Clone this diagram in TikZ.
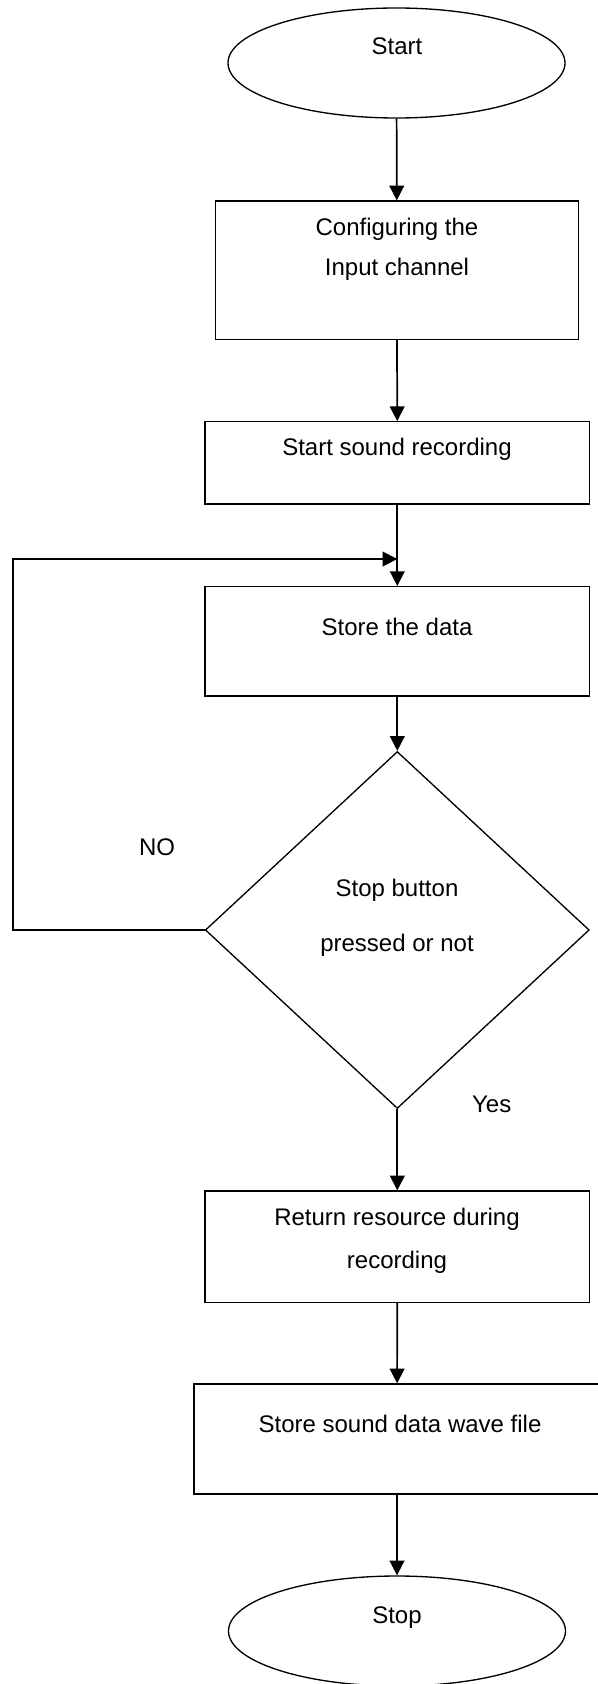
\documentclass[tikz,border=0pt]{standalone}
\usepackage{fontspec}
\setmainfont{Liberation Sans}
\usetikzlibrary{shapes.geometric,arrows.meta}
\begin{document}
\begin{tikzpicture}[
  x=0.75pt, y=-0.75pt,
  font=\fontsize{18}{22}\selectfont,
  shapeline/.style={draw=black, line width=1pt, inner sep=0pt},
  terminal/.style={shapeline, ellipse, minimum width=252.75pt, minimum height=82.5pt},
  procbox/.style={shapeline, rectangle},
  decision/.style={shapeline, diamond, minimum width=288pt, minimum height=267.75pt},
  caption/.style={anchor=base, inner sep=0pt},
  flow/.style={draw=black, line width=1.3pt, -{Triangle[length=11pt, width=11pt]}}
]
\useasboundingbox (0,0) rectangle (598,1684);

% shapes
\node[terminal] (start) at (396.5,63) {};
\node[procbox, minimum width=272pt, minimum height=103.7pt] (cfg) at (396.9,270.2) {};
\node[procbox, minimum width=288.5pt, minimum height=61.7pt] (rec) at (397.3,462.9) {};
\node[procbox, minimum width=288.5pt, minimum height=82pt] (store) at (397.3,641.3) {};
\node[decision] (dec) at (397.3,930) {};
\node[procbox, minimum width=288.5pt, minimum height=83.5pt] (ret) at (397.3,1246.7) {};
\node[procbox, minimum width=304.5pt, minimum height=82.5pt] (wave) at (397,1439) {};
\node[terminal] (stop) at (397,1631) {};

% texts
\node[caption] (tStart) at (397,55) {Start};
\node[caption] (tCfgA) at (397,235.3) {Configuring the};
\node[caption] (tCfgB) at (397,275.3) {Input channel};
\node[caption] (tRec) at (397,455) {Start sound recording};
\node[caption] (tStore) at (397,635) {Store the data};
\node[caption] (tDecA) at (397,896.7) {Stop button};
\node[caption] (tDecB) at (397,951) {pressed or not};
\node[caption] (tNo) at (157,855) {NO};
\node[caption] (tYes) at (491.7,1112.3) {Yes};
\node[caption] (tRetA) at (397,1225) {Return resource during};
\node[caption] (tRetB) at (397,1268) {recording};
\node[caption] (tWave) at (400,1432.7) {Store sound data wave file};
\node[caption] (tStop) at (397,1623.3) {Stop};

% loop-back path
\coordinate (loopL) at (13.3,559);
\coordinate (join) at (397.3,559);

% connectors
\draw[flow] (start) -- (cfg);
\draw[flow] (cfg) -- (rec);
\draw[flow] (rec) -- (store);
\draw[flow] (store) -- (dec);
\draw[flow] (dec) -- (ret);
\draw[flow] (ret) -- (wave);
\draw[flow] (wave) -- (stop);
\draw[flow] (dec.west) -| (loopL) -- (join);
\end{tikzpicture}
\end{document}
